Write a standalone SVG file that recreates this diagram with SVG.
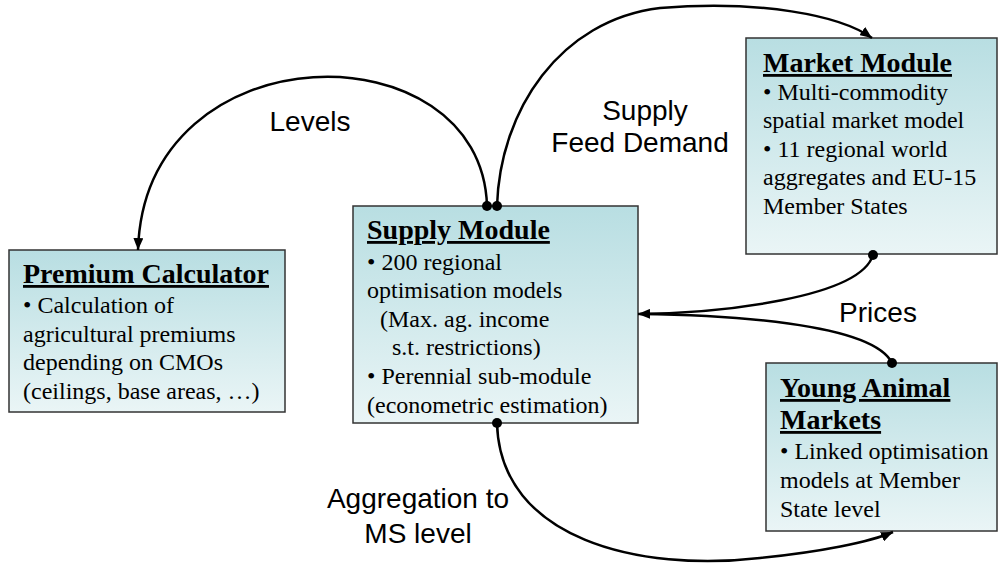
<svg xmlns="http://www.w3.org/2000/svg" width="1006" height="566" viewBox="0 0 1006 566">
<defs>
<linearGradient id="bg" x1="0" y1="0" x2="0" y2="1">
<stop offset="0" stop-color="#b8dee2"/>
<stop offset="1" stop-color="#eaf5f6"/>
</linearGradient>
<marker id="ah" viewBox="0 0 12 10" refX="12" refY="5" markerWidth="12" markerHeight="10" markerUnits="userSpaceOnUse" orient="auto">
<path d="M0,0 L12,5 L0,10 Z" fill="#000"/>
</marker>
</defs>
<style>
.box{fill:url(#bg);stroke:#333;stroke-width:1.5}
.t{font-family:"Liberation Serif","Times New Roman",serif;font-size:28px;font-weight:bold;text-decoration:underline;fill:#000}
.b{font-family:"Liberation Serif","Times New Roman",serif;font-size:24px;fill:#000}
.l{font-family:"Liberation Sans",Arial,sans-serif;font-size:28px;fill:#000;text-anchor:middle}
.c{fill:none;stroke:#000;stroke-width:2.5}
.d{fill:#000}
</style>
<rect width="1006" height="566" fill="#fff"/>
<g id="premium">
<rect class="box" x="9" y="250" width="276" height="162"/>
<text class="t" x="23" y="283">Premium Calculator</text>
<text class="b" x="23" y="313">• Calculation of</text>
<text class="b" x="23" y="342">agricultural premiums</text>
<text class="b" x="23" y="370">depending on CMOs</text>
<text class="b" x="23" y="399">(ceilings, base areas, …)</text>
</g>
<g id="supply">
<rect class="box" x="353" y="206" width="285" height="217"/>
<text class="t" x="367" y="239">Supply Module</text>
<text class="b" x="367" y="270">• 200 regional</text>
<text class="b" x="367" y="298">optimisation models</text>
<text class="b" x="380" y="327">(Max. ag. income</text>
<text class="b" x="392" y="355">s.t. restrictions)</text>
<text class="b" x="367" y="384">• Perennial sub-module</text>
<text class="b" x="367" y="413">(econometric estimation)</text>
</g>
<g id="market">
<rect class="box" x="746" y="38" width="251" height="216"/>
<text class="t" x="763" y="72">Market Module</text>
<text class="b" x="763" y="100">• Multi-commodity</text>
<text class="b" x="763" y="128">spatial market model</text>
<text class="b" x="763" y="157">• 11 regional world</text>
<text class="b" x="763" y="185">aggregates and EU-15</text>
<text class="b" x="763" y="214">Member States</text>
</g>
<g id="young">
<rect class="box" x="766" y="363" width="231" height="168"/>
<text class="t" x="780" y="397">Young Animal</text>
<text class="t" x="780" y="429">Markets</text>
<text class="b" x="780" y="459">• Linked optimisation</text>
<text class="b" x="780" y="488">models at Member</text>
<text class="b" x="780" y="517">State level</text>
</g>
<g id="connectors">
<path class="c" d="M487,206 C482,27 145,27 138,250" marker-end="url(#ah)"/>
<path class="c" d="M497,206 C500,110 560,20 660,8 C760,0 840,15 872,38" marker-end="url(#ah)"/>
<path class="c" d="M873,255 C860,298 720,313 638,314" marker-end="url(#ah)"/>
<path class="c" d="M892,363 C872,322 720,315 640,314"/>
<path class="c" d="M497,423 C500,540 640,572 760,558 C820,552 870,542 893,532" marker-end="url(#ah)"/>
<circle class="d" cx="487" cy="206" r="5"/>
<circle class="d" cx="497" cy="206" r="5"/>
<circle class="d" cx="873" cy="255" r="5"/>
<circle class="d" cx="892" cy="363" r="5"/>
<circle class="d" cx="497" cy="423" r="5"/>
<text class="l" x="310" y="131">Levels</text>
<text class="l" x="645" y="120">Supply</text>
<text class="l" x="640" y="152">Feed Demand</text>
<text class="l" x="878" y="322">Prices</text>
<text class="l" x="418" y="508">Aggregation to</text>
<text class="l" x="418" y="543">MS level</text>
</g>
</svg>
